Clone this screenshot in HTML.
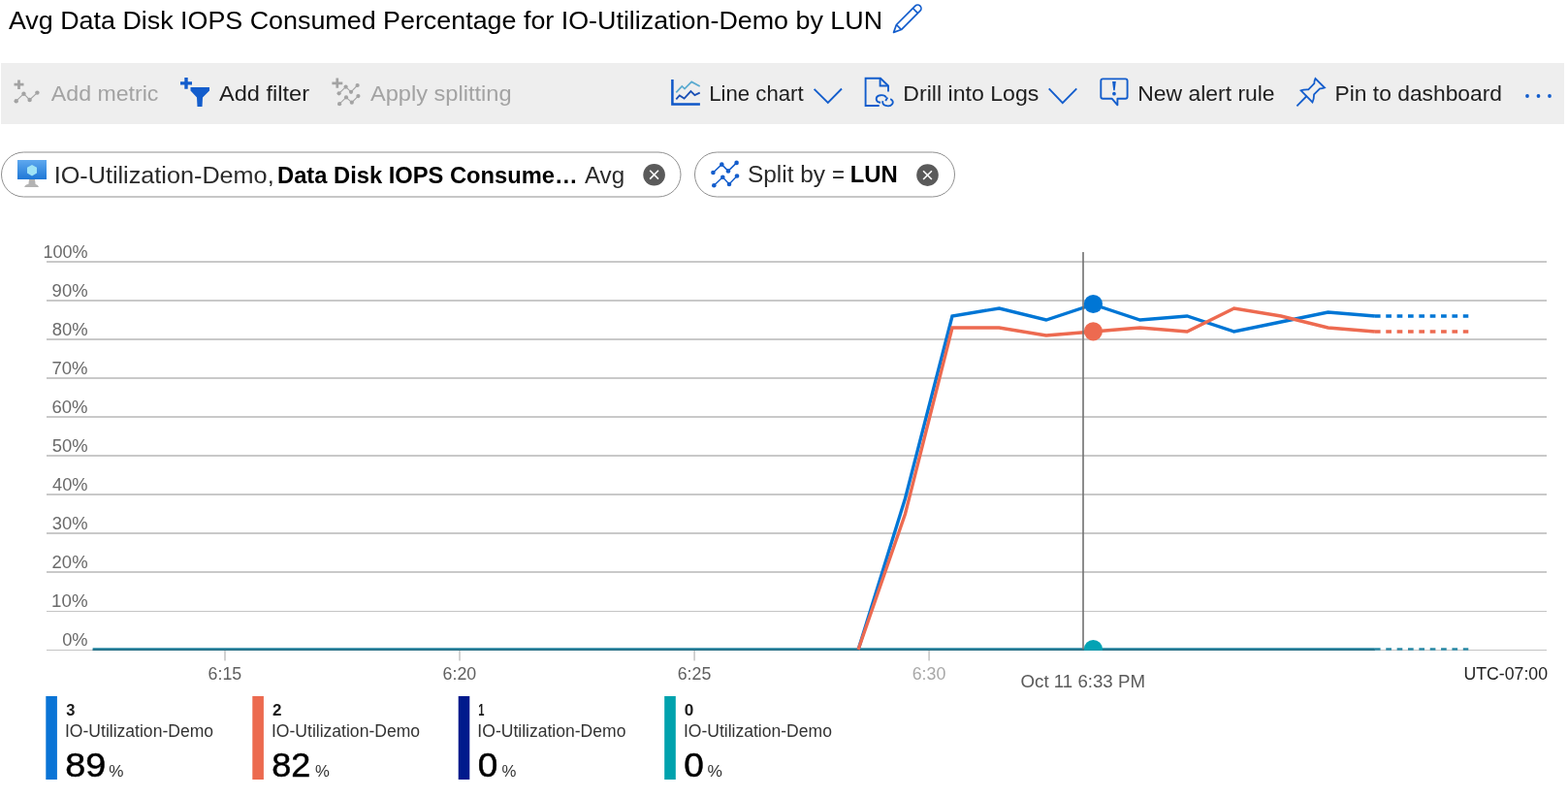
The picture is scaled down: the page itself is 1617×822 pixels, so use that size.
<!DOCTYPE html>
<html><head><meta charset="utf-8"><title>Metrics</title>
<style>html,body{margin:0;padding:0;background:#fff;overflow:hidden;width:1617px;height:822px}svg{display:block}</style>
</head><body>
<svg width="1617" height="822" viewBox="0 0 1617 822" font-family="'Liberation Sans', Arial, sans-serif">
<rect x="0" y="0" width="1617" height="822" fill="#fff"/>
<text x="8.95" y="30.00" font-size="26.5" font-weight="normal" fill="#000" textLength="901.14" lengthAdjust="spacingAndGlyphs">Avg Data Disk IOPS Consumed Percentage for IO-Utilization-Demo by LUN</text>
<g transform="translate(921.6,33.4) rotate(-45)" fill="none" stroke="#135dcc" stroke-width="1.7" stroke-linejoin="round"><path d="M0,0 L7.6,-3.6 L35,-3.6 A3.6,3.6 0 0 1 35,3.6 L7.6,3.6 Z"/><path d="M7.6,-3.6 L7.6,3.6 M31.6,-3.6 L31.6,3.6"/></g>
<rect x="1" y="65" width="1612" height="63" fill="#eeeeee"/>
<g stroke="#a3a3a3" fill="#a3a3a3"><path d="M14.5,87.2 H24.5 M19.5,82.5 V92" stroke-width="2.8" fill="none"/><path d="M16.7,104.2 L24.5,96.7 L30.6,103 L38.4,95.6" stroke-width="1.1" fill="none"/><circle cx="16.7" cy="104.2" r="2.2" stroke="none"/><circle cx="24.5" cy="96.7" r="2.2" stroke="none"/><circle cx="30.6" cy="103" r="2.2" stroke="none"/><circle cx="38.4" cy="95.6" r="2.2" stroke="none"/></g>
<text x="52.85" y="103.70" font-size="22" font-weight="normal" fill="#a3a3a3" textLength="110.56" lengthAdjust="spacingAndGlyphs">Add metric</text>
<g fill="#135dcc"><path d="M186,84.3 H198 V87.6 H186 Z M190.3,80 H193.7 V91.8 H190.3 Z"/><path d="M196.5,90 H216 L216,93.5 L209,100.5 L208.5,110 L203.5,110 L203,100.5 L196.5,93.5 Z"/></g>
<text x="225.95" y="103.80" font-size="22" font-weight="normal" fill="#1e1e1e" textLength="93.13" lengthAdjust="spacingAndGlyphs">Add filter</text>
<g stroke="#a3a3a3" fill="#a3a3a3"><path d="M342.4,85.9 H353.3 M347.8,80.6 V90.8" stroke-width="2.7" fill="none"/><path d="M349.6,96.3 L356.6,89.6 L362,94.8 L368.6,88 M350.1,107.2 L357,100.4 L362.8,105.7 L369.4,99.1" stroke-width="1.1" fill="none"/>
<circle cx="349.6" cy="96.3" r="2.1" stroke="none"/>
<circle cx="356.6" cy="89.6" r="2.1" stroke="none"/>
<circle cx="362" cy="94.8" r="2.1" stroke="none"/>
<circle cx="368.6" cy="88" r="2.1" stroke="none"/>
<circle cx="350.1" cy="107.2" r="2.1" stroke="none"/>
<circle cx="357" cy="100.4" r="2.1" stroke="none"/>
<circle cx="362.8" cy="105.7" r="2.1" stroke="none"/>
<circle cx="369.4" cy="99.1" r="2.1" stroke="none"/>
</g>
<text x="381.95" y="103.70" font-size="22" font-weight="normal" fill="#a3a3a3" textLength="145.66" lengthAdjust="spacingAndGlyphs">Apply splitting</text>
<path d="M693.4,82.1 V107.6 H721.9" fill="none" stroke="#0f57c8" stroke-width="2.5"/>
<path d="M697.3,95.4 L703.3,89 L706,91.6 L713.2,84.4 L721.7,89" fill="none" stroke="#5aaad0" stroke-width="1.7"/>
<path d="M697.3,102.4 L700.8,98.5 L705.6,101.6 L712.4,94.1 L716.5,98.1 L721.7,95.6" fill="none" stroke="#1a4fb5" stroke-width="1.8"/>
<text x="731.18" y="103.90" font-size="22" font-weight="normal" fill="#1e1e1e" textLength="97.47" lengthAdjust="spacingAndGlyphs">Line chart</text>
<path d="M839.6,91.8 L853.8,106 L868,91.5" fill="none" stroke="#135dcc" stroke-width="1.9"/>
<g fill="none" stroke="#135dcc" stroke-width="1.9"><path d="M906.7,109 H892.6 V80.7 H908 L916,88.5 V94.6"/><path d="M907.6,80.7 V88.5 H916"/><path d="M914,100.7 A5.3,3.8 0 1 0 908.1,105.7"/><path d="M910.5,104.2 A5.3,3.8 0 1 0 918.2,102.2"/><path d="M915.3,100.6 L913.2,104"/></g>
<text x="931.30" y="103.50" font-size="22" font-weight="normal" fill="#1e1e1e" textLength="140.03" lengthAdjust="spacingAndGlyphs">Drill into Logs</text>
<path d="M1081.7,91.3 L1095.8,106.1 L1110.3,91.3" fill="none" stroke="#135dcc" stroke-width="1.9"/>
<path d="M1146.6,101.7 H1137.3 Q1135.3,101.7 1135.3,99.7 V83.4 Q1135.3,81.4 1137.3,81.4 H1160.6 Q1162.6,81.4 1162.6,83.4 V99.7 Q1162.6,101.7 1160.6,101.7 H1152.4 V108.3 Z" fill="none" stroke="#135dcc" stroke-width="1.9" stroke-linejoin="round"/>
<path d="M1147.1,84 H1150.8 L1149.7,93.3 H1148.2 Z" fill="#135dcc"/><circle cx="1148.95" cy="96.7" r="1.85" fill="#135dcc"/>
<text x="1173.22" y="103.50" font-size="22" font-weight="normal" fill="#1e1e1e" textLength="141.39" lengthAdjust="spacingAndGlyphs">New alert rule</text>
<g fill="none" stroke="#135dcc" stroke-width="1.8" stroke-linejoin="miter"><path d="M1337.4,109.3 L1347.6,99"/><path d="M1341.6,93.4 Q1344.5,92.2 1349.3,92.4 L1355.3,86.2 Q1355.4,83 1356.5,81 L1366,90.5 Q1363.5,91.4 1361.1,91.3 L1355.1,97.4 Q1355,102.5 1353.5,105.4 Z"/></g>
<text x="1376.53" y="103.60" font-size="22" font-weight="normal" fill="#1e1e1e" textLength="172.53" lengthAdjust="spacingAndGlyphs">Pin to dashboard</text>
<circle cx="1575" cy="99" r="1.9" fill="#135dcc"/>
<circle cx="1586.5" cy="99" r="1.9" fill="#135dcc"/>
<circle cx="1598" cy="99" r="1.9" fill="#135dcc"/>
<rect x="1.5" y="157" width="700.5" height="46" rx="23" fill="#fff" stroke="#8f8f8f" stroke-width="1"/>
<rect x="716.5" y="157" width="268" height="46" rx="23" fill="#fff" stroke="#8f8f8f" stroke-width="1"/>
<defs><linearGradient id="mg" x1="0" y1="0" x2="0" y2="1"><stop offset="0" stop-color="#5ea8ef"/><stop offset="1" stop-color="#1f78d6"/></linearGradient></defs>
<rect x="18" y="165" width="30" height="20" fill="url(#mg)"/>
<path d="M33,170 L38,172.8 V178.6 L33,181.4 L28,178.6 V172.8 Z" fill="#9fe3f6"/>
<path d="M30,185 H36 L36.6,190 Q39.5,190.3 40,193 H25.2 Q25.7,190.3 29.4,190 Z" fill="#b3b3b3"/>
<text x="55.68" y="188.60" font-size="24.4" font-weight="normal" fill="#2a2a2a" textLength="226.99" lengthAdjust="spacingAndGlyphs">IO-Utilization-Demo,</text>
<text x="286.01" y="188.60" font-size="24.4" font-weight="bold" fill="#000" textLength="309.77" lengthAdjust="spacingAndGlyphs">Data Disk IOPS Consume…</text>
<text x="602.95" y="188.60" font-size="24.4" font-weight="normal" fill="#2a2a2a" textLength="41.20" lengthAdjust="spacingAndGlyphs">Avg</text>
<circle cx="674.6" cy="180.2" r="11.3" fill="#5a5a5a"/><path d="M670.2,175.8 L679,184.6 M679,175.8 L670.2,184.6" stroke="#fff" stroke-width="1.6"/>
<g stroke="#135dcc" fill="#135dcc"><path d="M735.4,178 L744.3,169.6 L751,176.4 L759.6,167.9 M736.3,191.3 L745.3,182.8 L752,190 L760,181.5" stroke-width="1.5" fill="none"/>
<circle cx="735.4" cy="178" r="2.3" stroke="none"/>
<circle cx="744.3" cy="169.6" r="2.3" stroke="none"/>
<circle cx="751" cy="176.4" r="2.3" stroke="none"/>
<circle cx="759.6" cy="167.9" r="2.3" stroke="none"/>
<circle cx="736.3" cy="191.3" r="2.3" stroke="none"/>
<circle cx="745.3" cy="182.8" r="2.3" stroke="none"/>
<circle cx="752" cy="190" r="2.3" stroke="none"/>
<circle cx="760" cy="181.5" r="2.3" stroke="none"/>
</g>
<text x="770.90" y="188.30" font-size="24.4" font-weight="normal" fill="#2a2a2a" textLength="80.16" lengthAdjust="spacingAndGlyphs">Split by</text>
<text x="858.11" y="188.30" font-size="24.4" font-weight="normal" fill="#1a1a1a" textLength="12.98" lengthAdjust="spacingAndGlyphs">=</text>
<text x="876.70" y="188.30" font-size="24.4" font-weight="bold" fill="#000" textLength="49.11" lengthAdjust="spacingAndGlyphs">LUN</text>
<circle cx="956.5" cy="180.6" r="11.3" fill="#5a5a5a"/><path d="M952.1,176.2 L960.9,185 M960.9,176.2 L952.1,185" stroke="#fff" stroke-width="1.6"/>
<rect x="48" y="269" width="1547" height="2" fill="#c9c9c9"/>
<text x="44.43" y="266.00" font-size="18" font-weight="normal" fill="#6a6a6a" textLength="46.11" lengthAdjust="spacingAndGlyphs">100%</text>
<rect x="48" y="309" width="1547" height="2" fill="#c9c9c9"/>
<text x="53.63" y="306.00" font-size="18" font-weight="normal" fill="#6a6a6a" textLength="36.92" lengthAdjust="spacingAndGlyphs">90%</text>
<rect x="48" y="349" width="1547" height="2" fill="#c9c9c9"/>
<text x="53.71" y="346.00" font-size="18" font-weight="normal" fill="#6a6a6a" textLength="36.84" lengthAdjust="spacingAndGlyphs">80%</text>
<rect x="48" y="389" width="1547" height="2" fill="#c9c9c9"/>
<text x="53.56" y="386.00" font-size="18" font-weight="normal" fill="#6a6a6a" textLength="37.00" lengthAdjust="spacingAndGlyphs">70%</text>
<rect x="48" y="429" width="1547" height="2" fill="#c9c9c9"/>
<text x="53.56" y="426.00" font-size="18" font-weight="normal" fill="#6a6a6a" textLength="37.00" lengthAdjust="spacingAndGlyphs">60%</text>
<rect x="48" y="469" width="1547" height="2" fill="#c9c9c9"/>
<text x="53.76" y="466.00" font-size="18" font-weight="normal" fill="#6a6a6a" textLength="36.79" lengthAdjust="spacingAndGlyphs">50%</text>
<rect x="48" y="509" width="1547" height="2" fill="#c9c9c9"/>
<text x="54.08" y="506.00" font-size="18" font-weight="normal" fill="#6a6a6a" textLength="36.47" lengthAdjust="spacingAndGlyphs">40%</text>
<rect x="48" y="549" width="1547" height="2" fill="#c9c9c9"/>
<text x="53.80" y="546.00" font-size="18" font-weight="normal" fill="#6a6a6a" textLength="36.75" lengthAdjust="spacingAndGlyphs">30%</text>
<rect x="48" y="589" width="1547" height="2" fill="#c9c9c9"/>
<text x="53.58" y="586.00" font-size="18" font-weight="normal" fill="#6a6a6a" textLength="36.98" lengthAdjust="spacingAndGlyphs">20%</text>
<rect x="48" y="630" width="1547" height="1" fill="#c4c4c4"/>
<text x="53.08" y="626.00" font-size="18" font-weight="normal" fill="#6a6a6a" textLength="37.49" lengthAdjust="spacingAndGlyphs">10%</text>
<rect x="48" y="670" width="1547" height="1" fill="#c4c4c4"/>
<text x="64.19" y="666.00" font-size="18" font-weight="normal" fill="#6a6a6a" textLength="26.36" lengthAdjust="spacingAndGlyphs">0%</text>
<rect x="231.25" y="671" width="1.5" height="10.5" fill="#c4c4c4"/>
<text x="214.59" y="700.80" font-size="18" font-weight="normal" fill="#5f5f5f" textLength="34.66" lengthAdjust="spacingAndGlyphs">6:15</text>
<rect x="473.25" y="671" width="1.5" height="10.5" fill="#c4c4c4"/>
<text x="456.59" y="700.80" font-size="18" font-weight="normal" fill="#5f5f5f" textLength="34.61" lengthAdjust="spacingAndGlyphs">6:20</text>
<rect x="715.35" y="671" width="1.5" height="10.5" fill="#c4c4c4"/>
<text x="698.69" y="700.80" font-size="18" font-weight="normal" fill="#5f5f5f" textLength="34.66" lengthAdjust="spacingAndGlyphs">6:25</text>
<rect x="957.35" y="671" width="1.5" height="10.5" fill="#c4c4c4"/>
<text x="940.69" y="700.80" font-size="18" font-weight="normal" fill="#a8a8a8" textLength="34.61" lengthAdjust="spacingAndGlyphs">6:30</text>
<text x="1052.52" y="708.90" font-size="18" font-weight="normal" fill="#5a5a5a" textLength="128.50" lengthAdjust="spacingAndGlyphs">Oct 11 6:33 PM</text>
<text x="1509.44" y="700.90" font-size="18" font-weight="normal" fill="#222" textLength="86.55" lengthAdjust="spacingAndGlyphs">UTC-07:00</text>
<rect x="95.6" y="668.2" width="1322.3" height="2.7" fill="#2a89a5"/>
<rect x="95.6" y="669.7" width="1322.3" height="1.2" fill="#21697f"/>
<line x1="1417.9" y1="669.5" x2="1514.3" y2="669.5" stroke="#2a89a5" stroke-width="2.7" stroke-dasharray="5.7 5.66"/>
<polyline points="885.1,670.0 933.5,514.0 982.0,326.0 1030.4,318.0 1078.9,330.0 1127.3,314.0 1175.7,330.0 1224.2,326.0 1272.6,342.0 1321.1,332.0 1369.5,322.0 1417.9,326.0" fill="none" stroke="#0076d5" stroke-width="3.4" stroke-linejoin="miter"/>
<polyline points="885.1,670.0 933.5,530.0 982.0,338.0 1030.4,338.0 1078.9,346.0 1127.3,342.0 1175.7,338.0 1224.2,342.0 1272.6,318.0 1321.1,326.0 1369.5,338.0 1417.9,342.0" fill="none" stroke="#ed6a50" stroke-width="3.4" stroke-linejoin="miter"/>
<line x1="1417.9" y1="326.0" x2="1514.3" y2="326.0" stroke="#0076d5" stroke-width="3.6" stroke-dasharray="5.7 5.66"/>
<line x1="1417.9" y1="342.0" x2="1514.3" y2="342.0" stroke="#ed6a50" stroke-width="3.6" stroke-dasharray="5.7 5.66"/>
<rect x="1116.2" y="260" width="1.6" height="410" fill="#707070"/>
<circle cx="1127.4" cy="313.5" r="9.6" fill="#0076d5"/>
<circle cx="1127.4" cy="341.8" r="9.6" fill="#ed6a50"/>
<clipPath id="cb"><rect x="0" y="0" width="1617" height="670.8"/></clipPath>
<circle cx="1127.4" cy="669.6" r="9.6" fill="#04a3b4" clip-path="url(#cb)"/>
<rect x="47.3" y="718" width="11.6" height="86" fill="#0a74d6"/>
<text x="68.22" y="738.20" font-size="15.6" font-weight="bold" fill="#1a1a1a" textLength="9.18" lengthAdjust="spacingAndGlyphs">3</text>
<text x="66.99" y="759.60" font-size="17.5" font-weight="normal" fill="#333" textLength="153.05" lengthAdjust="spacingAndGlyphs">IO-Utilization-Demo</text>
<text x="67.28" y="801.20" font-size="35.6" font-weight="normal" fill="#000" textLength="42.01" lengthAdjust="spacingAndGlyphs" stroke="#000" stroke-width="0.5">89</text>
<text x="112.38" y="801.20" font-size="16" font-weight="normal" fill="#333" textLength="15.22" lengthAdjust="spacingAndGlyphs">%</text>
<rect x="260.3" y="718" width="11.6" height="86" fill="#ec6a4f"/>
<text x="281.00" y="738.20" font-size="15.6" font-weight="bold" fill="#1a1a1a" textLength="9.48" lengthAdjust="spacingAndGlyphs">2</text>
<text x="279.99" y="759.60" font-size="17.5" font-weight="normal" fill="#333" textLength="153.05" lengthAdjust="spacingAndGlyphs">IO-Utilization-Demo</text>
<text x="280.35" y="801.20" font-size="35.6" font-weight="normal" fill="#000" textLength="40.06" lengthAdjust="spacingAndGlyphs" stroke="#000" stroke-width="0.5">82</text>
<text x="325.10" y="801.20" font-size="16" font-weight="normal" fill="#333" textLength="14.89" lengthAdjust="spacingAndGlyphs">%</text>
<rect x="472.7" y="718" width="11.6" height="86" fill="#001a8c"/>
<text x="493.30" y="738.20" font-size="15.6" font-weight="bold" fill="#1a1a1a" textLength="6.22" lengthAdjust="spacingAndGlyphs">1</text>
<text x="492.39" y="759.60" font-size="17.5" font-weight="normal" fill="#333" textLength="153.05" lengthAdjust="spacingAndGlyphs">IO-Utilization-Demo</text>
<text x="492.86" y="801.20" font-size="35.6" font-weight="normal" fill="#000" textLength="20.59" lengthAdjust="spacingAndGlyphs" stroke="#000" stroke-width="0.5">0</text>
<text x="517.60" y="801.20" font-size="16" font-weight="normal" fill="#333" textLength="14.89" lengthAdjust="spacingAndGlyphs">%</text>
<rect x="685.2" y="718" width="11.6" height="86" fill="#00a2ad"/>
<text x="705.83" y="738.20" font-size="15.6" font-weight="bold" fill="#1a1a1a" textLength="9.58" lengthAdjust="spacingAndGlyphs">0</text>
<text x="704.89" y="759.60" font-size="17.5" font-weight="normal" fill="#333" textLength="153.05" lengthAdjust="spacingAndGlyphs">IO-Utilization-Demo</text>
<text x="705.36" y="801.20" font-size="35.6" font-weight="normal" fill="#000" textLength="20.59" lengthAdjust="spacingAndGlyphs" stroke="#000" stroke-width="0.5">0</text>
<text x="729.58" y="801.20" font-size="16" font-weight="normal" fill="#333" textLength="15.44" lengthAdjust="spacingAndGlyphs">%</text>
</svg>
</body></html>
